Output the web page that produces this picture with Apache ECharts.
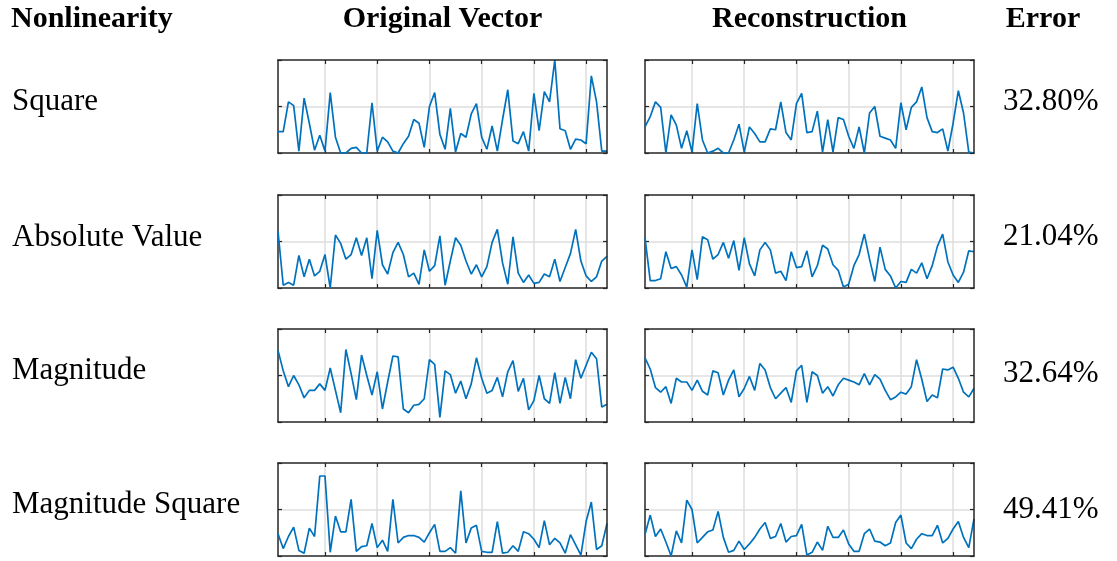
<!DOCTYPE html>
<html>
<head>
<meta charset="utf-8">
<script src="https://cdn.jsdelivr.net/npm/echarts@6/dist/echarts.min.js"></script>
<style>
  html, body { margin: 0; padding: 0; background: #fff; }
  #chart { width: 1117px; height: 561px; }
</style>
</head>
<body>
<div id="chart"></div>
<script>
// Column headings, row names and reconstruction errors
const columnTitles = ['Nonlinearity', 'Original Vector', 'Reconstruction', 'Error'];
const nonlinearities = ['Square', 'Absolute Value', 'Magnitude', 'Magnitude Square'];
const errorLabels = ['32.80%', '21.04%', '32.64%', '49.41%'];

// Sample index ticks carrying grid lines
const xTicks = [10, 20, 30, 40, 50, 60];

// Signals (64 samples each), scaled to the panel range 0..1
const originalSquare = [0.23,0.23,0.55,0.51,0.02,0.59,0.32,0.03,0.19,0.02, 0.65,0.17,0,0,0.05,0.06,0,0,0.54,0.02, 0.17,0.12,0.02,0,0.10,0.18,0.36,0.32,0.06,0.50, 0.65,0.20,0.04,0.48,0.01,0.21,0.17,0.42,0.53,0.17, 0.04,0.29,0.02,0.36,0.68,0.13,0.10,0.23,0.02,0.64, 0.24,0.66,0.55,1.00,0.26,0.24,0.04,0.15,0.14,0.10, 0.83,0.55,0.02,0.02];
const reconSquare = [0.28,0.39,0.55,0.49,0,0.41,0.30,0.05,0.24,0.01, 0.53,0.14,0,0.02,0.05,0,0,0.14,0.31,0.01, 0.28,0.21,0.12,0.12,0.26,0.25,0.55,0.22,0.14,0.53, 0.64,0.22,0.23,0.45,0.01,0.36,0.01,0.38,0.36,0.18, 0.05,0.28,0,0.43,0.50,0.18,0.16,0.14,0.05,0.54, 0.25,0.49,0.55,0.71,0.38,0.23,0.22,0.26,0.02,0.32, 0.67,0.43,0.01,0];
const originalAbs = [0.61,0.03,0.06,0.03,0.35,0.12,0.31,0.13,0.18,0.36, 0,0.57,0.48,0.31,0.36,0.54,0.35,0.54,0.10,0.62, 0.25,0.15,0.38,0.49,0.36,0.12,0.16,0.04,0.41,0.18, 0.24,0.56,0.03,0.29,0.54,0.46,0.29,0.15,0.25,0.12, 0.23,0.49,0.63,0.27,0.04,0.55,0.16,0.06,0.14,0.05, 0.06,0.15,0.12,0.31,0.07,0.22,0.37,0.63,0.29,0.13, 0.07,0.12,0.29,0.34];
const reconAbs = [0.54,0.08,0.08,0.10,0.39,0.21,0.23,0.14,0.01,0.41, 0.09,0.55,0.52,0.31,0.36,0.49,0.32,0.51,0.19,0.54, 0.26,0.13,0.41,0.49,0.41,0.16,0.18,0.08,0.39,0.22, 0.23,0.40,0.12,0.24,0.46,0.42,0.25,0.19,0.01,0.04, 0.24,0.36,0.58,0.31,0.07,0.44,0.20,0.13,0,0.07, 0.06,0.20,0.16,0.27,0.10,0.24,0.45,0.58,0.28,0.14, 0.06,0.17,0.40,0.39];
const originalMag = [0.77,0.55,0.38,0.50,0.40,0.26,0.34,0.34,0.41,0.34, 0.58,0.34,0.10,0.78,0.52,0.24,0.72,0.50,0.29,0.54, 0.14,0.43,0.71,0.70,0.14,0.10,0.18,0.19,0.25,0.67, 0.62,0.05,0.55,0.51,0.31,0.44,0.25,0.41,0.69,0.47, 0.31,0.34,0.48,0.27,0.54,0.66,0.33,0.47,0.13,0.23, 0.50,0.25,0.20,0.53,0.20,0.48,0.25,0.67,0.47,0.61, 0.75,0.68,0.16,0.19];
const reconMag = [0.69,0.57,0.37,0.32,0.38,0.20,0.47,0.43,0.43,0.34, 0.45,0.33,0.29,0.55,0.53,0.29,0.45,0.56,0.27,0.36, 0.49,0.34,0.63,0.56,0.37,0.25,0.31,0.37,0.21,0.55, 0.61,0.21,0.54,0.50,0.31,0.38,0.28,0.40,0.47,0.45, 0.43,0.40,0.52,0.40,0.51,0.46,0.34,0.24,0.27,0.32, 0.30,0.38,0.67,0.46,0.22,0.29,0.26,0.57,0.56,0.59, 0.47,0.32,0.27,0.36];
const originalMagSq = [0.24,0.08,0.21,0.31,0.06,0.03,0.30,0.21,0.86,0.86, 0.04,0.43,0.26,0.26,0.61,0.05,0.10,0.11,0.35,0.09, 0.17,0.05,0.61,0.14,0.20,0.22,0.22,0.20,0.15,0.25, 0.34,0.05,0.05,0.09,0.03,0.70,0.14,0.30,0.33,0.05, 0.04,0.04,0.37,0.03,0.04,0.11,0.05,0.26,0.24,0.18, 0.09,0.38,0.12,0.19,0.14,0.03,0.23,0.12,0.01,0.37, 0.58,0.07,0.11,0.35];
const reconMagSq = [0.23,0.44,0.21,0.29,0.15,0,0.27,0.14,0.60,0.50, 0.14,0.20,0.26,0.28,0.48,0.20,0.04,0.06,0.16,0.07, 0.13,0.20,0.29,0.36,0.19,0.21,0.35,0.15,0.21,0.22, 0.34,0.01,0.04,0.15,0.06,0.32,0.20,0.20,0.28,0.13, 0.05,0.05,0.24,0.29,0.16,0.15,0.11,0.14,0.36,0.44, 0.14,0.08,0.18,0.24,0.22,0.22,0.33,0.14,0.19,0.29, 0.37,0.20,0.09,0.40];

const rows = [
  [originalSquare, reconSquare],
  [originalAbs, reconAbs],
  [originalMag, reconMag],
  [originalMagSq, reconMagSq]
];

// Sample numbers 1..64 as category labels
const sampleIndex = originalSquare.map((_, i) => String(i + 1));

// Layout
const FONT = "'Liberation Serif', 'Times New Roman', serif";
const colLeft = [278, 645];
const panelWidth = 329;
const rowTop = [60, 195, 329, 463];
const panelHeight = 93;
const headerX = [11, 442.5, 809.5, 1043];
const headerAlign = ['left', 'center', 'center', 'center'];
const headerY = 19;
const labelY = [102, 238, 371, 505];
const errorY = [102, 237, 374, 510];

const LINE_BLUE = '#0072BD';
const AXIS_DARK = '#262626';
const GRID_GRAY = '#dedede';

const isTick = (idx) => xTicks.indexOf(idx + 1) >= 0;

const grids = [], xAxes = [], yAxes = [], series = [];
rows.forEach((pair, r) => {
  pair.forEach((values, c) => {
    const g = grids.length;
    grids.push({ left: colLeft[c], top: rowTop[r], width: panelWidth, height: panelHeight, containLabel: false });
    ['bottom', 'top'].forEach((pos) => {
      xAxes.push({
        gridIndex: g, type: 'category', position: pos, data: sampleIndex, boundaryGap: false,
        axisLine: { show: true, onZero: false, lineStyle: { color: AXIS_DARK, width: 1.5 } },
        axisTick: { show: true, inside: true, length: 4, interval: (idx) => isTick(idx), lineStyle: { color: AXIS_DARK, width: 1.2 } },
        axisLabel: { show: false },
        splitLine: { show: pos === 'bottom', interval: (idx) => isTick(idx), lineStyle: { color: GRID_GRAY, width: 1.5 } },
        z: pos === 'top' ? 3 : 1
      });
    });
    ['left', 'right'].forEach((pos) => {
      yAxes.push({
        gridIndex: g, type: 'value', position: pos, min: 0, max: 1, interval: 0.5,
        axisLine: { show: true, onZero: false, lineStyle: { color: AXIS_DARK, width: 1.5 } },
        axisTick: { show: true, inside: true, length: 4, lineStyle: { color: AXIS_DARK, width: 1.2 } },
        axisLabel: { show: false },
        splitLine: { show: pos === 'left', showMinLine: false, showMaxLine: false, lineStyle: { color: GRID_GRAY, width: 1.5 } },
        z: pos === 'right' ? 3 : 1
      });
    });
    series.push({
      type: 'line', xAxisIndex: 2 * g, yAxisIndex: 2 * g, data: values,
      showSymbol: false, symbol: 'none', clip: false,
      lineStyle: { color: LINE_BLUE, width: 1.7 },
      z: 2
    });
  });
});

const graphic = [];
columnTitles.forEach((t, i) => {
  graphic.push({ type: 'text', x: headerX[i], y: headerY,
    style: { text: t, font: 'bold 30px ' + FONT, fill: '#000', align: headerAlign[i], verticalAlign: 'middle' } });
});
nonlinearities.forEach((t, i) => {
  graphic.push({ type: 'text', x: 12, y: labelY[i],
    style: { text: t, font: '31px ' + FONT, fill: '#000', align: 'left', verticalAlign: 'middle' } });
});
errorLabels.forEach((t, i) => {
  graphic.push({ type: 'text', x: 1003, y: errorY[i],
    style: { text: t, font: '31px ' + FONT, fill: '#000', align: 'left', verticalAlign: 'middle' } });
});

const chart = echarts.init(document.getElementById('chart'), null, { renderer: 'canvas' });
chart.setOption({
  animation: false,
  backgroundColor: '#fff',
  grid: grids,
  xAxis: xAxes,
  yAxis: yAxes,
  series: series,
  graphic: graphic
});
</script>
</body>
</html>
